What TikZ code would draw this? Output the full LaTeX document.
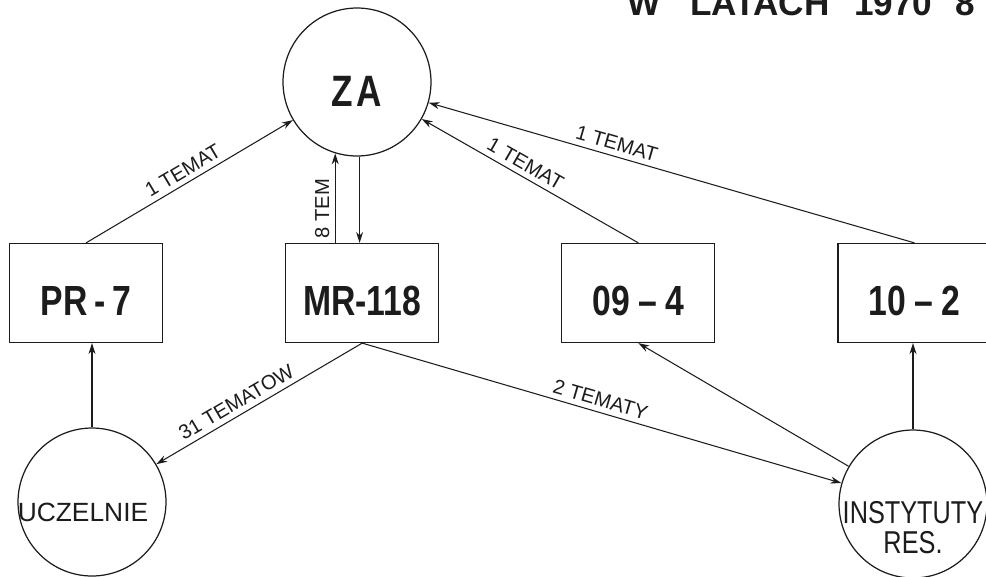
\documentclass[tikz,border=0pt]{standalone}
\usepackage{fontspec}
\setmainfont{Liberation Sans}
\newfontfamily\narrowfont[FakeStretch=0.8]{Liberation Sans}
\usepackage{xcolor}
\definecolor{inkBlack}{HTML}{1C1C1C}
\usepackage{tikz}
\usetikzlibrary{
    arrows.meta,
    positioning
}
\tikzset{
    % Circles for the units
    unit/.style={
        circle,
        draw=inkBlack,
        line width=0.7pt,
        minimum size=2.96cm,
        inner sep=0pt,
    },
    % Captions set inside the circles
    unit text/.style={
        font=\fontsize{15}{17}\selectfont,
        text=inkBlack,
        align=center,
        inner sep=0pt,
    },
    % Boxes for the departments
    dept/.style={
        rectangle,
        draw=inkBlack,
        line width=0.7pt,
        minimum width=3.06cm,
        minimum height=1.98cm,
        font=\narrowfont\bfseries\fontsize{24}{28}\selectfont,
        text=inkBlack,
        text height=0.88cm,
        text depth=0pt,
    },
    % Thin arrow with small filled tip
    arrow/.style={
        -{Stealth[length=2.2mm, width=1.4mm]},
        line width=0.6pt,
        draw=inkBlack,
    },
    % Label along an arrow
    edge label/.style={
        font=\fontsize{11.5}{13}\selectfont,
        text=inkBlack,
        sloped,
        above,
        inner sep=3pt,
    },
}

\begin{document}
\begin{tikzpicture}[x=0.02cm, y=-0.02cm]
    \useasboundingbox (0,0) rectangle (986,576);

    \node (title) [anchor=base west, inner sep=0pt, font=\bfseries\fontsize{20}{24}\selectfont, text=inkBlack]
        at (627,15) {W\hspace{17pt}LATACH\hspace{14pt}1970\hspace{13pt}8};

    % circles
    \node (za) [unit] at (357,82) {};
    \node (za label) [unit text, font=\narrowfont\bfseries\fontsize{25}{25}\selectfont] at ([yshift=-0.18cm]za.center) {Z\kern2ptA};
    \node (ucz) [unit] at (92,502) {};
    \node (ucz label) [unit text] at ([xshift=-0.18cm, yshift=-0.21cm]ucz.center) {UCZELNIE};
    \node (inst) [unit] at (913,504) {};
    \node (inst label) [unit text, font=\narrowfont\fontsize{18}{17}\selectfont] at ([yshift=-0.47cm]inst.center) {INSTYTUTY\\RES.};

    % boxes
    \node (pr7) [dept] at (86,293) {PR\,-\,7};
    \node (mr) [dept, right=2.44cm of pr7] {MR-118};
    \node (o94) [dept, right=2.44cm of mr] {09\hspace{0.2em}–\hspace{0.2em}4};
    \node (o102) [dept, right=2.44cm of o94] {10\hspace{0.2em}–\hspace{0.2em}2};

    \draw [arrow] (pr7.north) -- node[edge label, pos=0.5] {1 TEMAT} (za);
    \draw [arrow] (za.253 |- mr.north) -- node[edge label, pos=0.38] {8 TEM} (za.253);
    \draw [arrow] (za.272) -- (za.272 |- mr.north);
    \draw [arrow] (o94.north) -- node[edge label, pos=0.55] {1 TEMAT} (za);
    \draw [arrow] (o102.north) -- node[edge label, pos=0.62] {1 TEMAT} (za);
    \draw [arrow] (mr.south) -- node[edge label, pos=0.58] {31 TEMATOW} (ucz);
    \draw [arrow] (mr.south) -- node[edge label, pos=0.49] {2 TEMATY} (inst);
    \draw [arrow] (inst) -- (o94.south);
    \draw [arrow] (inst.north) -- (inst.north |- o102.south);
    \draw [arrow] (ucz.north) -- (ucz.north |- pr7.south);
\end{tikzpicture}
\end{document}
